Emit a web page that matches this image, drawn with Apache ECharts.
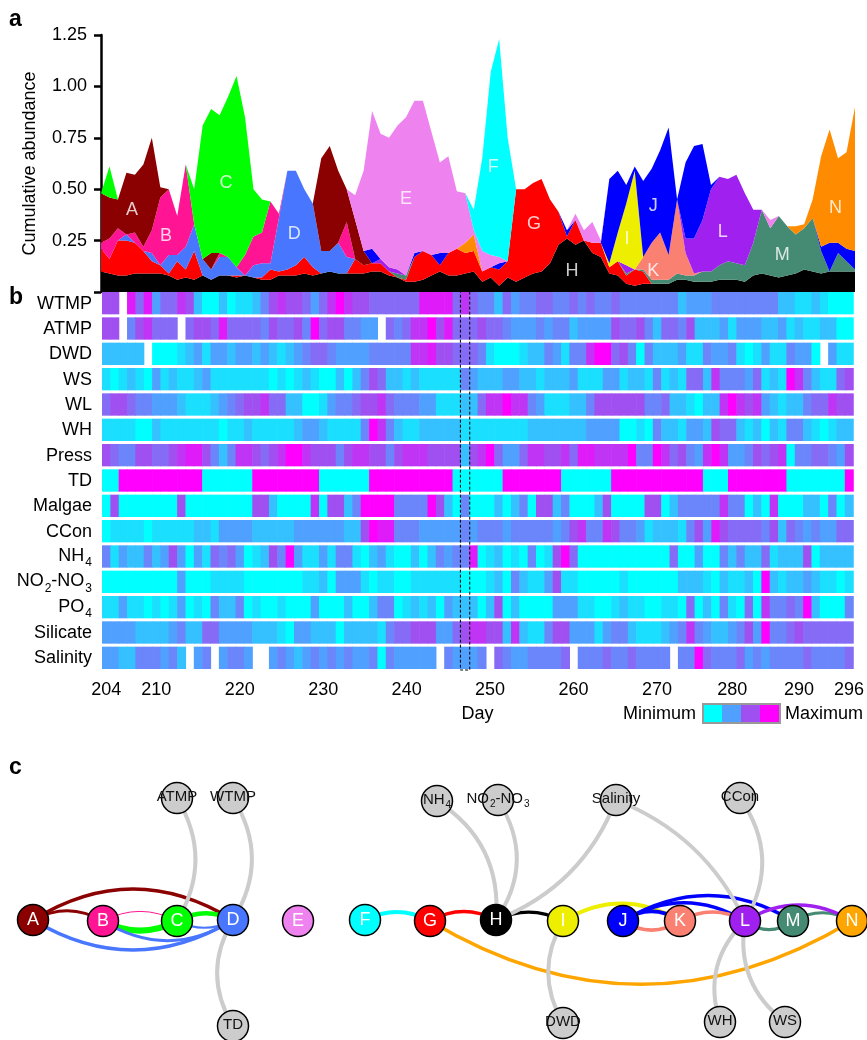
<!DOCTYPE html>
<html><head><meta charset="utf-8">
<script src="https://cdn.jsdelivr.net/npm/echarts@6/dist/echarts.min.js"></script>
<style>html,body{margin:0;padding:0;background:#fff}#c{width:867px;height:1040px}</style>
</head><body><div id="c"></div>
<script>
const FONT = '"Liberation Sans", Arial, Helvetica, sans-serif';

// ---------- sampling days (x categories) ----------
const days = [204,205,206,207,208,209,210,211,212,213,214,215,216,217,218,219,220,221,222,223,224,225,226,227,228,229,230,231,232,233,234,235,236,237,238,239,240,241,242,243,244,245,246,247,248,249,250,251,252,253,254,255,256,257,258,259,260,261,262,263,264,265,266,267,268,269,270,271,272,273,274,276,277,278,279,280,281,282,283,285,286,288,289,290,291,292,293,294,295,296];
const tickDays = [204,210,220,230,240,250,260,270,280,290,296];
const highlightDay = [247];
const yTicks = [0, 0.25, 0.5, 0.75, 1.0, 1.25];

// ---------- panel a: abundance per species (stack increments) ----------
const abundH = [0.10,0.09,0.08,0.08,0.09,0.09,0.09,0.09,0.08,0.06, 0.07,0.06,0.08,0.06,0.08,0.08,0.07,0.08,0.07,0.06, 0.06,0.08,0.08,0.08,0.09,0.08,0.09,0.10,0.09,0.09, 0.09,0.09,0.10,0.10,0.08,0.07,0.05,0.05,0.06,0.08, 0.10,0.08,0.08,0.09,0.10,0.05,0.07,0.03,0.07,0.05, 0.07,0.09,0.10,0.14,0.23,0.26,0.23,0.25,0.19,0.17, 0.09,0.08,0.04,0.03,0.04,0.04,0.04,0.04,0.06,0.06, 0.05,0.05,0.05,0.06,0.06,0.06,0.05,0.08,0.09,0.08, 0.07,0.08,0.09,0.11,0.10,0.09,0.10,0.10,0.10,0.10];
const abundG = [0.11,0.07,0.17,0.17,0.15,0.11,0.06,0.04,0.01,0.09, 0.04,0.14,0,0,0,0,0.01,0,0,0.01, 0.05,0.02,0.03,0.05,0.08,0.04,0,0,0,0, 0.07,0.04,0.04,0.04,0.02,0,0.01,0.12,0.14,0.10, 0.03,0.11,0.13,0.10,0.10,0.05,0.05,0.08,0.08,0.45, 0.43,0.44,0.45,0.31,0.16,0.01,0.12,0,0.05,0.07, 0.03,0.07,0.04,0.08,0.06,0,0,0,0,0, 0,0,0,0,0,0,0,0,0,0, 0,0,0,0,0,0,0,0,0,0];
const abundM = [0,0,0,0,0,0,0,0,0,0, 0,0,0,0,0,0,0,0,0,0, 0,0,0,0,0,0,0,0,0,0, 0,0,0,0,0,0.02,0.02,0,0,0, 0,0,0,0,0,0,0,0,0,0, 0,0,0,0,0,0,0,0,0,0, 0,0,0.01,0,0.01,0.02,0.02,0.02,0.03,0.02, 0.03,0.05,0.05,0.07,0.09,0.08,0.08,0.16,0.31,0.23, 0.30,0.24,0.19,0.20,0.26,0.11,0,0.09,0.05,0.01];
const abundK = [0,0,0,0,0,0,0,0,0,0, 0,0,0,0,0,0,0,0,0,0, 0,0,0,0,0,0,0,0,0,0, 0,0,0,0,0,0,0,0,0,0, 0,0,0,0,0,0,0,0,0,0, 0,0,0,0,0,0,0,0,0,0, 0,0,0,0,0.06,0.18,0.23,0.12,0.36,0.11, 0.01,0,0,0,0,0,0,0,0,0, 0,0,0,0,0,0,0,0,0,0];
const abundD = [0,0,0,0.03,0,0,0.04,0,0.09,0.03, 0.11,0.13,0.08,0.05,0.09,0.09,0.04,0,0.06,0.07, 0.03,0.26,0.48,0.46,0.33,0.31,0.11,0.10,0.15,0.08, 0,0,0,0,0,0,0,0,0,0, 0,0,0,0,0,0,0,0,0,0, 0,0,0,0,0,0,0,0,0,0, 0,0,0,0,0,0,0,0,0,0, 0,0,0,0,0,0,0,0,0,0, 0,0,0,0,0,0,0,0,0,0];
const abundB = [0.03,0.10,0.06,0,0.05,0.02,0.11,0.33,0.32,0.19, 0.40,0,0,0,0.02,0,0,0.10,0.14,0.15, 0.30,0.02,0,0,0,0,0,0,0,0.17, 0,0,0,0,0,0,0,0,0,0, 0,0,0,0,0,0,0,0,0,0, 0,0,0,0,0,0,0,0,0,0, 0,0,0,0,0,0,0,0,0,0, 0,0,0,0,0,0,0,0,0,0, 0,0,0,0,0,0,0,0,0,0];
const abundA = [0.24,0.20,0.14,0.30,0.28,0.40,0.45,0.05,0,0, 0,0,0,0.08,0,0,0,0,0,0, 0,0,0,0,0,0,0.45,0.51,0.35,0.16, 0.19,0.07,0,0,0,0,0,0,0,0, 0,0,0,0,0,0,0,0,0,0, 0,0,0,0,0,0,0,0,0,0, 0,0,0,0,0,0,0,0,0,0, 0,0,0,0,0,0,0,0,0,0, 0,0,0,0,0,0,0,0,0,0];
const abundL = [0,0,0,0,0,0,0,0,0,0, 0,0,0,0,0,0,0,0,0,0, 0,0,0,0,0,0,0,0,0,0, 0,0,0,0.02,0.02,0.02,0,0,0,0, 0,0,0,0,0,0,0,0,0,0, 0,0,0,0,0,0,0,0,0,0, 0,0,0.04,0,0,0,0,0,0,0.07, 0.17,0.25,0.40,0.43,0.40,0.43,0.35,0.16,0,0, 0,0,0,0,0,0,0,0,0,0];
const abundI = [0,0,0,0,0,0,0,0,0,0, 0,0,0,0,0,0,0,0,0,0, 0,0,0,0,0,0,0,0,0,0, 0,0,0,0,0,0,0,0,0,0, 0,0,0,0,0,0,0,0,0,0, 0,0,0,0,0,0,0,0,0,0, 0.02,0.14,0.30,0.48,0,0,0,0,0,0, 0,0,0,0,0,0,0,0,0,0, 0,0,0,0,0,0,0,0,0,0];
const abundJ = [0,0,0,0,0,0,0,0,0,0, 0,0,0,0,0,0,0,0,0,0, 0,0,0,0,0,0,0,0,0,0, 0,0,0.07,0,0,0,0,0.02,0,0, 0.06,0,0,0,0,0,0,0.03,0,0, 0,0,0,0,0,0.03,0,0,0,0, 0.41,0.30,0.09,0.02,0.37,0.36,0.40,0.62,0,0.37, 0.45,0.37,0.02,0,0,0,0,0,0,0, 0,0,0,0,0,0.02,0.14,0.05,0.06,0.09];
const abundN = [0,0,0,0,0,0,0,0,0,0, 0,0,0,0,0,0,0,0,0,0, 0,0,0,0,0,0,0,0,0,0, 0,0,0,0,0,0,0,0,0,0, 0,0,0,0.05,0.08,0,0,0,0,0, 0,0,0,0,0,0,0,0,0,0, 0,0,0,0,0,0,0,0,0,0, 0,0,0,0,0,0,0,0,0,0, 0,0,0.04,0.02,0.09,0.44,0.55,0.41,0.47,0.70];
const abundC = [0,0.15,0,0,0,0,0,0,0,0, 0,0.17,0.65,0.70,0.67,0.78,0.93,0.67,0.23,0.16, 0,0,0,0,0,0,0,0,0,0, 0,0,0,0,0,0,0,0,0,0, 0,0,0,0,0,0,0,0,0,0, 0,0,0,0,0,0,0,0,0,0, 0,0,0,0,0,0,0,0,0,0, 0,0,0,0,0,0,0,0,0,0, 0,0,0,0,0,0,0,0,0,0];
const abundE = [0,0,0,0,0,0,0,0,0,0, 0,0,0,0,0,0,0,0,0,0, 0,0,0,0,0,0,0,0,0,0, 0.12,0.39,0.67,0.61,0.63,0.70,0.77,0.74,0.73,0.60, 0.44,0.47,0.28,0.24,0.02,0.10,0.06,0.03,0,0, 0,0,0,0,0,0,0.03,0.05,0.10,0.01, 0,0,0,0,0,0,0,0,0,0, 0,0,0,0,0,0,0,0,0,0.04, 0,0,0,0,0,0,0,0,0,0];
const abundF = [0,0,0,0,0,0,0,0,0,0, 0,0,0,0,0,0,0,0,0,0, 0,0,0,0,0,0,0,0,0,0, 0,0,0,0,0,0,0,0,0,0, 0,0,0,0,0.10,0.45,0.89,1.06,0.60,0, 0,0,0,0,0,0,0,0,0,0, 0,0,0,0,0,0,0,0,0,0, 0,0,0,0,0,0,0,0,0,0, 0,0,0,0,0,0,0,0,0,0];
const stackOrder = ['H','G','M','K','D','B','A','L','I','J','N','C','E','F'];
const abundance = {H:abundH,G:abundG,M:abundM,K:abundK,D:abundD,B:abundB,A:abundA,L:abundL,I:abundI,J:abundJ,N:abundN,C:abundC,E:abundE,F:abundF};
const areaLabels = [[3.66,0.40,'A'],[7.67,0.27,'B'],[14.76,0.53,'C'],[22.8,0.28,'D'],[36.0,0.45,'E'],[46.3,0.61,'F'],[51.1,0.33,'G'],[55.6,0.10,'H'],[62.1,0.26,'I'],[65.2,0.42,'J'],[65.2,0.10,'K'],[73.4,0.29,'L'],[80.4,0.18,'M'],[86.7,0.41,'N']];

// ---------- panel b: environmental variables (relative level 0=min .. 9=max) ----------
const rowNames = ['WTMP','ATMP','DWD','WS','WL','WH','Press','TD','Malgae','CCon','NH4','NO2-NO3','PO4','Silicate','Salinity'];
const rowWTMP = [6,6,null,8,5,8,3,5,5,7,6,2,0,0,2,0,1,1,2,4,6,7,6,6,5,3,5,7,9,7,6,6,5,5,5,5,5,5,8,8,8,8,5,7,5, 4,4,2,5,3,4,4,5,5,4,4,5,4,5,4,4,5,4,4,4,4,4,4,4,2,3,3,3,4,4,4,4,4,4,4,4,2,2,1,1,2,1,0,0,0];
const rowATMP = [6,6,null,4,6,7,5,5,5,null,5,6,6,5,8,5,5,5,5,4,6,5,5,6,4,9,5,6,6,4,4,3,3,null,5,4,5,7,7,9,6,8,5,5,5, 6,5,5,4,3,3,3,4,3,4,4,2,3,3,3,3,6,5,5,6,4,2,5,5,4,6,2,2,2,3,1,3,3,3,2,2,3,1,2,1,1,2,2,0,0];
const rowDWD = [2,2,2,2,2,null,0,0,0,1,2,3,1,3,3,2,3,3,2,3,2,1,2,3,4,5,5,4,3,3,3,3,4,4,4,4,4,7,7,8,6,6,5,5,5, 4,1,0,0,0,1,2,2,4,3,1,4,4,7,9,9,5,6,4,0,4,2,2,2,3,1,1,4,3,3,4,1,0,1,3,1,1,4,3,3,0,null,3,1,1];
const rowWS = [1,0,1,2,1,0,3,1,2,1,1,2,3,1,1,1,1,1,1,1,0,1,0,1,2,1,0,0,2,0,2,4,6,5,2,2,1,2,1,1,1,1,1,4,3, 2,2,2,3,3,2,2,1,2,2,2,3,1,1,1,3,3,1,2,2,1,4,1,2,1,5,5,2,7,4,4,4,3,5,1,2,1,9,7,4,2,1,1,5,6];
const rowWL = [5,6,6,5,4,4,3,3,3,2,1,1,1,2,3,4,5,6,6,7,5,5,2,2,0,0,1,3,4,4,5,6,6,7,5,4,4,4,3,3,1,1,1,2,2, 5,7,7,9,7,7,4,3,1,1,1,2,2,4,6,6,6,6,6,6,4,4,5,2,2,1,0,2,2,7,9,7,6,7,3,2,1,2,2,4,5,5,7,6,6];
const rowWH = [1,1,1,1,0,0,2,1,1,1,1,1,1,1,0,1,1,2,1,1,1,1,1,2,3,3,2,1,1,1,1,4,9,7,4,2,1,1,2,2,2,2,2,1,1, 1,1,1,1,1,1,2,2,2,2,2,2,2,3,3,3,3,0,0,1,0,4,2,2,1,3,3,2,6,5,5,2,1,2,0,2,1,4,4,2,1,0,1,2,2];
const rowPress = [6,5,4,4,6,6,5,5,6,7,8,8,6,4,2,4,7,7,6,5,6,7,9,9,7,6,6,6,4,6,7,7,6,6,4,6,7,7,7,6,6,6,6,2,6, 7,9,5,3,3,5,7,7,6,6,7,5,8,8,7,7,7,7,9,4,4,9,7,5,6,4,3,7,9,7,3,3,4,6,5,6,7,0,4,4,5,5,4,3,6];
const rowTD = [0,0,9,9,9,9,9,9,9,9,9,9,0,0,0,0,0,0,9,9,9,9,9,9,9,9,0,0,0,0,0,0,9,9,9,9,9,9,9,9,9,9,0,0,0, 0,0,0,9,9,9,9,9,9,9,0,0,0,0,0,0,9,9,9,9,9,9,9,9,9,9,9,0,0,0,9,9,9,9,9,9,9,0,0,0,0,0,0,0,9];
const rowMalgae = [0,6,0,0,0,0,0,0,0,6, 0,0,0,0,0,0,0,0,6,6, 2,0,0,0,0,7,0,6,6,2, 4,9,9,9,9,4,4,4,4,9, 6,2,0,4,0, 0,0,2,0,2,4,0,6,6,2, 4,0,0,0,2,6,0,0,0,0, 6,6,0,2,4,4,4,4,4,7, 4,4,0,2,0,7,0,0,0,2, 2,0,4,0,2];
const rowCCon = [0,1,1,1,1,0,1,1,1,1, 1,2,2,1,3,3,3,3,2,2, 2,2,2,3,3,3,3,3,3,2, 2,6,9,8,8,4,4,4,3,3, 3,3,3,4,3, 4,4,4,3,4,4,4,4,4,3, 4,6,7,4,4,7,6,4,4,3, 1,2,2,2,1,4,6,3,8,6, 5,5,5,5,4,6,2,5,4,3, 4,3,3,5,5];
const rowNH4 = [4,1,3,2,2,4,2,3,6,3, 0,3,1,5,4,5,3,0,1,2, 6,4,9,3,1,1,3,1,4,4, 1,0,2,3,1,0,0,2,0,2, 4,3,4,4,8, 0,1,2,0,1,0,4,0,1,6, 9,5,0,0,0,0,0,0,0,0, 0,0,0,5,0,0,3,0,0,4, 2,4,2,2,5,1,2,2,2,6, 0,2,2,2,2];
const rowNO2NO3 = [0,0,0,0,0,0,0,0,0,3, 0,0,0,1,1,1,1,0,0,0, 0,0,0,0,1,1,2,0,3,3, 3,1,0,1,1,0,0,1,1,1, 1,1,1,0,0, 0,1,2,0,4,2,1,1,3,6, 1,1,0,0,0,0,0,1,0,0, 0,0,0,0,2,2,2,1,0,2, 1,1,2,0,9,2,1,2,2,3, 2,1,1,0,1];
const rowPO4 = [1,1,3,1,1,0,1,0,1,3, 0,1,0,4,2,2,4,0,1,0, 0,1,0,0,0,3,0,0,0,2, 0,0,2,4,4,0,1,2,1,2, 0,3,2,2,2, 0,2,6,0,2,0,0,0,0,3, 3,3,1,1,0,0,1,2,1,1, 0,0,1,1,0,5,0,2,0,4, 1,0,5,0,7,4,4,5,4,9, 2,0,0,0,4];
const rowSilicate = [3,3,3,3,2,2,2,2,3,4, 2,2,5,5,3,3,3,3,2,2, 2,1,0,3,3,2,2,2,0,2, 2,2,2,1,4,5,5,6,6,6, 3,3,5,6,7, 7,6,6,2,7,2,1,1,4,6, 6,3,3,3,1,3,4,4,2,1, 1,1,2,3,4,7,4,3,2,2, 3,4,6,3,9,4,4,5,6,5, 5,5,5,5,5];
const rowSalinity = [3,3,2,2,4,4,4,3,4,2, null,3,4,null,3,4,4,3,null,null, 3,4,3,2,3,4,3,4,3,4, 3,3,4,0,4,3,3,3,3,3, null,4,3,3,3, 4,null,5,4,3,3,4,4,4,4, 5,null,4,4,4,5,4,4,5,4, 4,4,4,null,4,4,9,5,4,4, 4,5,3,4,3,4,4,4,4,5, 4,4,4,4,5];
const heatRows = [rowWTMP,rowATMP,rowDWD,rowWS,rowWL,rowWH,rowPress,rowTD,rowMalgae,rowCCon,rowNH4,rowNO2NO3,rowPO4,rowSilicate,rowSalinity];
const scaleColors = ['#00FFFF','#50A0FF','#A050F0','#FF00FF'];

// ---------- panel c: network ----------
const speciesColors = {A:'#8B0000',B:'#FF1493',C:'#00FF00',D:'#4876FF',E:'#EE82EE',F:'#00FFFF',G:'#FF0000',H:'#000000',I:'#EEEE00',J:'#0000FF',K:'#FA8072',L:'#A020F0',M:'#458B74',N:'#FF8C00'};
const netColors = Object.assign({}, speciesColors, {N:'#FFA500', env:'#CCCCCC'});
const speciesNodes = ['A','B','C','D','E','F','G','H','I','J','K','L','M','N'];
const envNodes = ['ATMP','WTMP','TD','NH4','NO2-NO3','Salinity','CCon','DWD','WH','WS'];
const nodeLayout = {A:[33,920],B:[103,921],C:[177,921],D:[233,920],E:[298,921],F:[365,920],G:[430,921],H:[496,920],I:[563,921],J:[623,921],K:[680,921],L:[745,921],M:[793,921],N:[852,921],
  ATMP:[177,798],WTMP:[233,798],TD:[233,1026],NH4:[437,801],'NO2-NO3':[498,800],Salinity:[616,800],CCon:[740,798],DWD:[563,1023],WH:[720,1022],WS:[785,1022]};
// [source, target, colour key, curveness, width]
const edges = [
  ['A','D','A',0.31,3.5],['A','B','A',0.28,3],['A','D','D',-0.3,3.5],['B','C','B',0.26,1],['B','C','C',-0.26,6],
  ['B','D','D',-0.31,3],['C','D','C',0.26,4.5],['C','D','D',-0.26,2],
  ['ATMP','C','env',0.3,4],['WTMP','D','env',0.31,4],['D','TD','env',-0.3,4],
  ['F','G','F',0.26,4],['G','H','G',0.27,3.5],['H','I','H',0.25,3],
  ['NH4','H','env',0.3,4],['NO2-NO3','H','env',0.33,4],['Salinity','H','env',0.22,4],
  ['I','K','I',0.3,4],['J','K','J',0.34,4],['J','L','J',0.3,3.5],['J','M','J',0.3,3.5],['J','K','K',-0.32,3.5],
  ['K','L','K',0.28,3.5],['L','M','M',-0.36,3],['M','N','M',0.28,3],['L','N','L',0.3,3.5],['G','N','N',-0.3,3.5],
  ['Salinity','L','env',0.2,4],['CCon','L','env',0.32,4],['I','DWD','env',-0.29,4],['L','WH','env',-0.31,4],['L','WS','env',-0.3,4]
];

function subFmt(name) {
  if (name === 'NH4') return '{m|NH}{s|4}';
  if (name === 'NO2-NO3') return '{m|NO}{s|2}{m|-NO}{s|3}';
  if (name === 'PO4') return '{m|PO}{s|4}';
  return '{m|' + name + '}';
}
function richSet(size, color) {
  return {
    m: {fontSize: size, color: color, fontFamily: FONT, lineHeight: size + 2, verticalAlign: 'top'},
    s: {fontSize: Math.round(size * 0.68), color: color, fontFamily: FONT, verticalAlign: 'bottom', padding: [Math.round(size * 0.55), 0, 0, 1]}
  };
}

const chart = echarts.init(document.getElementById('c'), null, {renderer: 'canvas', width: 867, height: 1040});

const areaSeries = stackOrder.map(k => ({
  type: 'line', name: k, xAxisIndex: 0, yAxisIndex: 0, stack: 'cum', symbol: 'none', showSymbol: false,
  lineStyle: {width: 0}, areaStyle: {color: speciesColors[k], opacity: 1}, silent: true,
  data: abundance[k]
}));

const heatData = [];
heatRows.forEach((row, r) => row.forEach((v, c) => { if (v !== null) heatData.push([c, r, v]); }));

const option = {
  animation: false,
  textStyle: {fontFamily: FONT},
  grid: [
    {left: 101, top: 35, width: 754, height: 257},
    {left: 102, top: 292, width: 753, height: 380}
  ],
  xAxis: [
    {gridIndex: 0, type: 'category', data: days.map(String), boundaryGap: false, show: false},
    {gridIndex: 1, type: 'category', data: days.map(String), boundaryGap: true,
      axisLine: {show: false}, axisTick: {show: false}, splitLine: {show: false},
      axisLabel: {interval: (i, v) => tickDays.includes(+v), fontSize: 18, color: '#000', margin: 9, fontFamily: FONT},
      name: 'Day', nameLocation: 'middle', nameGap: 33, nameTextStyle: {fontSize: 18, color: '#000', fontFamily: FONT}},
    {gridIndex: 0, type: 'value', min: 0, max: days.length - 1, show: false}
  ],
  yAxis: [
    {gridIndex: 0, type: 'value', min: yTicks[0], max: yTicks[yTicks.length - 1], interval: yTicks[1] - yTicks[0],
      axisLine: {show: true, lineStyle: {color: '#000', width: 2.5}},
      axisTick: {show: true, length: 7, lineStyle: {color: '#000', width: 2.5}},
      axisLabel: {formatter: v => v === 0 ? '' : v.toFixed(2), fontSize: 18, color: '#000', margin: 14, fontFamily: FONT},
      splitLine: {show: false},
      name: 'Cumulative abundance', nameLocation: 'middle', nameGap: 62, nameTextStyle: {fontSize: 18, color: '#000', fontFamily: FONT}},
    {gridIndex: 1, type: 'category', data: rowNames, inverse: true,
      axisLine: {show: false}, axisTick: {show: false}, splitLine: {show: false},
      axisLabel: {formatter: subFmt, rich: richSet(18, '#000'), margin: 10}}
  ],
  visualMap: {type: 'continuous', show: false, min: 0, max: 9, dimension: 2, seriesIndex: stackOrder.length + 1,
    inRange: {color: scaleColors}},
  graphic: [
    {type: 'text', left: 9, top: 8, style: {text: 'a', font: 'bold 23px ' + FONT, fill: '#000'}},
    {type: 'text', left: 9, top: 286, style: {text: 'b', font: 'bold 23px ' + FONT, fill: '#000'}},
    {type: 'text', left: 9, top: 756, style: {text: 'c', font: 'bold 23px ' + FONT, fill: '#000'}},
    {type: 'text', x: 696, y: 714, style: {text: 'Minimum', font: '18px ' + FONT, fill: '#000', align: 'right', verticalAlign: 'middle'}},
    {type: 'text', x: 785, y: 714, style: {text: 'Maximum', font: '18px ' + FONT, fill: '#000', align: 'left', verticalAlign: 'middle'}},
    {type: 'group', x: 703, y: 704, children: scaleColors.map((col, i) => ({
      type: 'rect', shape: {x: i * 19, y: 0, width: 19.5, height: 19}, style: {fill: col}
    })).concat([{type: 'rect', shape: {x: 0, y: 0, width: 77, height: 19}, style: {fill: 'none', stroke: '#999', lineWidth: 2}}])}
  ],
  series: areaSeries.concat([
    {type: 'scatter', xAxisIndex: 2, yAxisIndex: 0, symbolSize: 0, silent: true, z: 5,
      data: areaLabels,
      label: {show: true, position: 'inside', formatter: p => p.data[2], color: '#fff', fontSize: 18, fontFamily: FONT}},
    {type: 'custom', xAxisIndex: 1, yAxisIndex: 1, silent: true, data: heatData,
      encode: {x: 0, y: 1},
      renderItem: (params, api) => {
        const c = api.coord([api.value(0), api.value(1)]);
        const sz = api.size([1, 1]);
        return {type: 'rect', shape: {x: c[0] - sz[0] / 2, y: c[1] - sz[1] / 2, width: sz[0] + 0.6, height: sz[1] - 3},
          style: {fill: api.visual('color')}};
      }},
    {type: 'custom', xAxisIndex: 1, yAxisIndex: 1, silent: true, z: 10,
      data: highlightDay.map(d => [days.indexOf(d), 0]),
      encode: {x: 0, y: 1},
      renderItem: (params, api) => {
        const top = api.coord([api.value(0), 0]);
        const bot = api.coord([api.value(0), rowNames.length - 1]);
        const sz = api.size([1, 1]);
        return {type: 'rect', shape: {x: top[0] - sz[0] / 2 - 0.5, y: top[1] - sz[1] / 2 - 1, width: sz[0] + 1, height: bot[1] - top[1] + sz[1] - 1},
          style: {fill: 'none', stroke: '#000', lineWidth: 1, lineDash: [3, 2]}};
      }},
    {type: 'graph', layout: 'none', roam: false, silent: true,
      left: 33, top: 798, width: 819, height: 228,
      symbol: 'circle', symbolSize: 31,
      data: speciesNodes.map(n => ({name: n, x: nodeLayout[n][0], y: nodeLayout[n][1],
          itemStyle: {color: netColors[n], borderColor: '#000', borderWidth: 1.5},
          label: {show: true, position: 'inside', formatter: '{b}', color: '#fff', fontSize: 18, fontFamily: FONT}}))
        .concat(envNodes.map(n => ({name: n, x: nodeLayout[n][0], y: nodeLayout[n][1],
          itemStyle: {color: '#CCCCCC', borderColor: '#000', borderWidth: 1.5},
          label: {show: true, position: 'inside', formatter: p => subFmt(p.name), rich: richSet(15, '#111')}}))),
      links: edges.map(e => ({source: e[0], target: e[1],
        lineStyle: {color: netColors[e[2]], width: e[4], curveness: e[3], opacity: 1}})),
      edgeSymbol: ['none', 'none']}
  ])
};
chart.setOption(option);
</script></body></html>
